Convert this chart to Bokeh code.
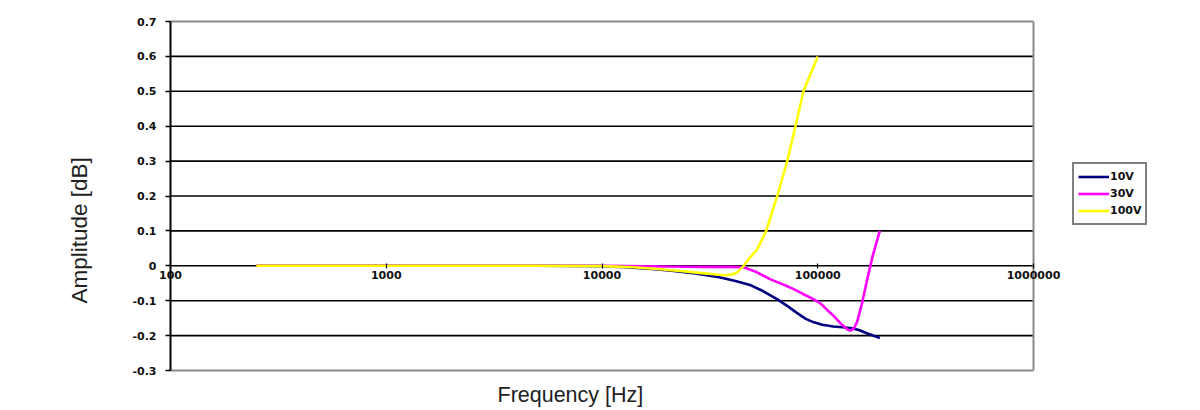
from bokeh.plotting import figure
from bokeh.models import FixedTicker, Legend, LegendItem, Title
from bokeh.embed import file_html
from bokeh.resources import INLINE

# ---- data ----
f_10v = [250, 1000, 5000, 10000, 13000, 17000, 21000, 27000, 35000, 42000, 49000, 56000,
         65000, 73000, 80000, 88000, 96000, 105000, 118000, 130000, 142000, 155000, 170000, 194000]
v_10v = [0, 0, 0, -0.001, -0.004, -0.009, -0.014, -0.022, -0.033, -0.044, -0.056, -0.073,
         -0.096, -0.117, -0.135, -0.152, -0.162, -0.169, -0.174, -0.176, -0.178, -0.184, -0.194, -0.207]

f_30v = [250, 1000, 5000, 10000, 20000, 30000, 40000, 45000, 47100, 52000, 60400, 70000,
         77400, 85000, 95900, 103000, 110000, 118700, 128000, 136900, 142000, 147000, 152400,
         160000, 169500, 180000, 194000]
v_30v = [0, 0, 0, 0, -0.002, -0.003, -0.003, -0.004, -0.008, -0.018, -0.039, -0.055,
         -0.067, -0.080, -0.096, -0.108, -0.125, -0.144, -0.166, -0.182, -0.186, -0.180, -0.160,
         -0.110, -0.039, 0.030, 0.100]

f_100v = [250, 1000, 5000, 10000, 14000, 18000, 23000, 29000, 34000, 37000, 40000, 42300,
          45400, 47100, 52400, 57700, 64900, 72200, 78800, 85900, 100000]
v_100v = [0, 0, 0, -0.001, -0.004, -0.009, -0.015, -0.021, -0.025, -0.027, -0.025, -0.019,
          0.0, 0.014, 0.047, 0.100, 0.200, 0.300, 0.400, 0.500, 0.600]

series_names = ["10V", "30V", "100V"]
series_colors = ["#000080", "#FF00FF", "#FFFF00"]

x_ticks = [100, 1000, 10000, 100000, 1000000]
x_tick_labels = ["100", "1000", "10000", "100000", "1000000"]
y_ticks = [-0.3, -0.2, -0.1, 0.0, 0.1, 0.2, 0.3, 0.4, 0.5, 0.6, 0.7]
y_tick_labels = ["-0.3", "-0.2", "-0.1", "0", "0.1", "0.2", "0.3", "0.4", "0.5", "0.6", "0.7"]

x_title = "Frequency [Hz]"
y_title = "Amplitude [dB]"

FONT = "Liberation Sans"
TICK_FONT = "DejaVu Sans"

# plot area (100..1e6, -0.3..0.7) sits inside a slightly larger frame so that
# the axis labels and the legend beside it are not clipped
X_MIN, X_MAX = x_ticks[0], x_ticks[-1]
Y_MIN, Y_MAX = y_ticks[0], y_ticks[-1]
PX_DEC = 215.75      # pixels per decade
PX_UNIT = 349.0      # pixels per 1.0 dB
pad_l, pad_r, pad_top, pad_bot = 40, 127, 9, 6
x_lo = 10 ** (2 - pad_l / PX_DEC)
x_hi = 10 ** (6 + pad_r / PX_DEC)
y_lo = Y_MIN - pad_bot / PX_UNIT
y_hi = Y_MAX + pad_top / PX_UNIT

p = figure(width=1200, height=410, x_axis_type="log", x_range=(x_lo, x_hi), y_range=(y_lo, y_hi),
           output_backend="svg", toolbar_location=None,
           min_border_left=130, min_border_right=40, min_border_top=12, min_border_bottom=34)

p.background_fill_color = "white"
p.border_fill_color = "white"
p.outline_line_color = None
p.xgrid.visible = False
p.ygrid.visible = False

# horizontal grid lines and zero line (black), plot-area border (grey)
inner = [t for t in y_ticks if t not in (Y_MIN, Y_MAX)]
p.segment(x0=[X_MIN] * len(inner), x1=[X_MAX] * len(inner), y0=inner, y1=inner,
          line_color="black", line_width=1.6)
p.segment(x0=[X_MIN, X_MIN, X_MAX], x1=[X_MAX, X_MAX, X_MAX],
          y0=[Y_MAX, Y_MIN, Y_MIN], y1=[Y_MAX, Y_MIN, Y_MAX],
          line_color="#8a8a8a", line_width=2)

# y axis at x = 100
p.yaxis.fixed_location = X_MIN
p.yaxis.bounds = (Y_MIN, Y_MAX)
p.yaxis.ticker = FixedTicker(ticks=y_ticks)
p.yaxis.major_label_overrides = {t: l for t, l in zip(y_ticks, y_tick_labels)}
p.yaxis.axis_line_color = "black"
p.yaxis.axis_line_width = 2
p.yaxis.major_tick_out = 5
p.yaxis.major_tick_in = 0
p.yaxis.major_tick_line_width = 1.5
p.yaxis.minor_tick_line_color = None
p.yaxis.major_label_standoff = 9
p.yaxis.major_label_text_font = TICK_FONT
p.yaxis.major_label_text_font_style = "bold"
p.yaxis.major_label_text_font_size = "11px"
p.yaxis.major_label_text_color = "#111111"

# x axis crossing at 0 (its line is drawn as a glyph below the curves)
p.xaxis.fixed_location = 0
p.xaxis.bounds = (X_MIN, X_MAX)
p.xaxis.ticker = FixedTicker(ticks=x_ticks)
p.xaxis.major_label_overrides = {t: l for t, l in zip(x_ticks, x_tick_labels)}
p.xaxis.axis_line_color = None
p.xaxis.major_tick_out = 3
p.xaxis.major_tick_in = 2
p.xaxis.major_tick_line_width = 1.2
p.xaxis.minor_tick_line_color = None
p.xaxis.major_label_standoff = 2
p.xaxis.major_label_text_font = TICK_FONT
p.xaxis.major_label_text_font_style = "bold"
p.xaxis.major_label_text_font_size = "11px"
p.xaxis.major_label_text_color = "#111111"

# series
items = []
for name, color, fx, vy in zip(series_names, series_colors,
                                [f_10v, f_30v, f_100v], [v_10v, v_30v, v_100v]):
    r = p.line(fx, vy, line_color=color, line_width=2.6)
    items.append(LegendItem(label=name, renderers=[r]))

legend = Legend(items=items, location=(942, 151), margin=0,
                border_line_color="black", border_line_width=2,
                padding=4, spacing=0, glyph_width=31, glyph_height=17,
                label_height=17, label_standoff=1,
                label_text_font=TICK_FONT, label_text_font_style="bold",
                label_text_font_size="11px", label_text_color="#111111",
                background_fill_color="white")
p.add_layout(legend, "center")

# axis titles
p.add_layout(Title(text=y_title, align="left", offset=73, standoff=78,
                   text_font=FONT, text_font_style="normal", text_font_size="22.5px",
                   text_color="#222222"), "left")
p.add_layout(Title(text=x_title, align="left", offset=367, standoff=8,
                   text_font=FONT, text_font_style="normal", text_font_size="21.5px",
                   text_color="#222222"), "below")

open("out.html", "w").write(file_html(p, INLINE))
